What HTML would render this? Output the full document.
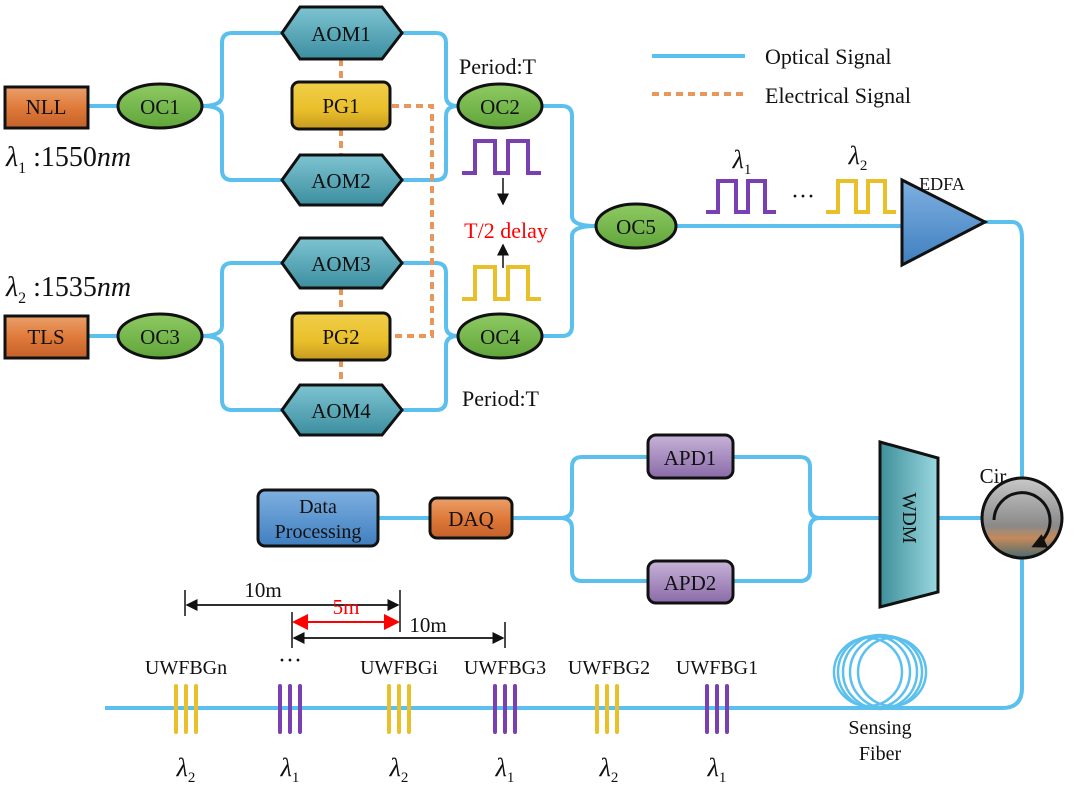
<!DOCTYPE html>
<html><head><meta charset="utf-8"><style>body{margin:0;background:#fff}svg{display:block}text{font-family:"Liberation Serif",serif;fill:#111}</style></head><body>
<svg width="1080" height="796" viewBox="0 0 1080 796" xmlns="http://www.w3.org/2000/svg">
<defs>
<linearGradient id="or" x1="0" y1="0" x2="0" y2="1"><stop offset="0" stop-color="#e9a06a"/><stop offset="0.5" stop-color="#e07a3a"/><stop offset="1" stop-color="#c4602a"/></linearGradient>
<linearGradient id="gr" x1="0" y1="0" x2="0" y2="1"><stop offset="0" stop-color="#8fca63"/><stop offset="1" stop-color="#5fa53a"/></linearGradient>
<linearGradient id="tl" x1="0" y1="0" x2="0" y2="1"><stop offset="0" stop-color="#7ec4d2"/><stop offset="1" stop-color="#3c8ea0"/></linearGradient>
<linearGradient id="ye" x1="0" y1="0" x2="0" y2="1"><stop offset="0" stop-color="#f1cf4a"/><stop offset="0.6" stop-color="#e9bf2a"/><stop offset="1" stop-color="#c79a20"/></linearGradient>
<linearGradient id="pu" x1="0" y1="0" x2="0" y2="1"><stop offset="0" stop-color="#c7b3d8"/><stop offset="1" stop-color="#8a6aa8"/></linearGradient>
<linearGradient id="bl" x1="0" y1="0" x2="0" y2="1"><stop offset="0" stop-color="#7fb0e0"/><stop offset="1" stop-color="#3f7fc0"/></linearGradient>
<linearGradient id="wd" x1="0" y1="0" x2="1" y2="0"><stop offset="0" stop-color="#3e8f9a"/><stop offset="1" stop-color="#9ad8e0"/></linearGradient>
<linearGradient id="ci" x1="0" y1="0" x2="0" y2="1"><stop offset="0" stop-color="#c8c8c8"/><stop offset="0.6" stop-color="#8a8a8a"/><stop offset="0.75" stop-color="#c48a5a"/><stop offset="1" stop-color="#4a6a70"/></linearGradient>
<marker id="ah" markerWidth="8" markerHeight="8" refX="7" refY="4" orient="auto"><path d="M0,0 L8,4 L0,8 z" fill="#111"/></marker>
<marker id="ahs" markerWidth="5" markerHeight="5" refX="4" refY="2.5" orient="auto"><path d="M0,0 L5,2.5 L0,5 z" fill="#111"/></marker>
<marker id="ahr" markerWidth="8" markerHeight="8" refX="7" refY="4" orient="auto"><path d="M0,0 L8,4 L0,8 z" fill="#f00"/></marker>
</defs>
<g fill="none" stroke="#5bc0ee" stroke-width="4" stroke-linejoin="round">
<path d="M88,106 H120"/>
<path d="M202,106 Q222,106 222,96 V43 Q222,33 232,33 H290 M202,106 Q222,106 222,116 V170 Q222,180 232,180 H290"/>
<path d="M392,33 H436 Q446,33 446,43 V96 Q446,106 458,106 M392,180 H436 Q446,180 446,170 V116 Q446,106 458,106"/>
<path d="M202,336 Q222,336 222,326 V273 Q222,263 232,263 H290 M202,336 Q222,336 222,346 V400 Q222,410 232,410 H290"/>
<path d="M88,336 H120"/>
<path d="M392,263 H436 Q446,263 446,273 V326 Q446,336 458,336 M392,410 H436 Q446,410 446,400 V346 Q446,336 458,336"/>
<path d="M542,106 H562 Q572,106 572,116 V216 Q572,226 596,226 M542,336 H562 Q572,336 572,326 V236 Q572,226 596,226"/>
<path d="M676,226 H902"/>
<path d="M985,222 H1012 Q1022,222 1022,238 V478"/>
<path d="M1022,558 V688 Q1022,708 1002,708 H105"/>
<path d="M938,518 H982"/>
<path d="M880,518 H820 Q810,518 810,508 V467 Q810,457 800,457 H733 M820,518 Q810,518 810,528 V571 Q810,581 800,581 H733"/>
<path d="M648,457 H582 Q572,457 572,467 V508 Q572,518 560,518 H512 M648,581 H582 Q572,581 572,571 V528 Q572,518 560,518"/>
<path d="M430,518 H378"/>
<path d="M652,56 H745"/>
<circle cx="880" cy="672" r="37" stroke-width="2.5"/><circle cx="868" cy="672" r="34" stroke-width="2.5"/><circle cx="892" cy="672" r="34" stroke-width="2.5"/><circle cx="874" cy="672" r="36" stroke-width="2.5"/><circle cx="886" cy="672" r="36" stroke-width="2.5"/>
</g>
<g fill="none" stroke="#e8965a" stroke-width="4" stroke-dasharray="7,5">
<path d="M341,59 V82 M341,129 V155 M341,288 V313 M341,360 V384"/>
<path d="M392,106 H432 V336 H392"/>
<path d="M652,94 H745"/>
</g>
<g stroke="#111" stroke-width="3">
<rect x="5" y="87" width="83" height="41" fill="url(#or)"/>
<rect x="5" y="316" width="83" height="42" fill="url(#or)"/>
<ellipse cx="160" cy="106" rx="42" ry="22" fill="url(#gr)"/>
<ellipse cx="160" cy="336" rx="42" ry="22" fill="url(#gr)"/>
<ellipse cx="500" cy="106" rx="42" ry="22" fill="url(#gr)"/>
<ellipse cx="500" cy="336" rx="42" ry="22" fill="url(#gr)"/>
<ellipse cx="636" cy="226" rx="40" ry="22" fill="url(#gr)"/>
<path d="M282,33 L300,7 H382 L402,33 L382,59 H300 Z" fill="url(#tl)"/>
<path d="M282,180 L300,155 H382 L402,180 L382,205 H300 Z" fill="url(#tl)"/>
<path d="M282,263 L300,238 H382 L402,263 L382,288 H300 Z" fill="url(#tl)"/>
<path d="M282,410 L300,385 H382 L402,410 L382,435 H300 Z" fill="url(#tl)"/>
<rect x="292" y="82" width="98" height="47" rx="7" fill="url(#ye)"/>
<rect x="292" y="313" width="98" height="47" rx="7" fill="url(#ye)"/>
<path d="M902,180 V265 L985,222 Z" fill="url(#bl)"/>
<rect x="648" y="435" width="85" height="43" rx="8" fill="url(#pu)"/>
<rect x="648" y="561" width="85" height="42" rx="8" fill="url(#pu)"/>
<rect x="430" y="498" width="82" height="40" rx="7" fill="url(#or)"/>
<rect x="258" y="490" width="120" height="56" rx="7" fill="url(#bl)"/>
<path d="M880,442 L938,458 V592 L880,607 Z" fill="url(#wd)"/>
<circle cx="1022" cy="518" r="40" fill="url(#ci)"/>
</g>
<path d="M994,520 A28,28 0 1 1 1034,546" fill="none" stroke="#111" stroke-width="3" marker-end="url(#ahs)"/>
<g fill="none" stroke-width="4">
<path d="M462,173 H475 V141 H495 V173 H508 V141 H528 V173 H541" stroke="#7a3fb0"/>
<path d="M462,299 H475 V267 H495 V299 H508 V267 H528 V299 H541" stroke="#e9bf2a"/>
<path d="M706,212 H718 V181 H736 V212 H748 V181 H765 V212 H776" stroke="#7a3fb0"/>
<path d="M826,212 H838 V181 H856 V212 H868 V181 H885 V212 H896" stroke="#e9bf2a"/>
</g>
<line x1="503" y1="178" x2="503" y2="204" stroke="#111" stroke-width="1.5" marker-end="url(#ah)"/>
<line x1="503" y1="268" x2="503" y2="245" stroke="#111" stroke-width="1.5" marker-end="url(#ah)"/>
<g stroke-width="4" stroke-linecap="round">
<g stroke="#e9bf2a"><path d="M176,686V732M186,686V732M196,686V732M389,686V732M399,686V732M409,686V732M597,686V732M607,686V732M617,686V732"/></g>
<g stroke="#7a3fb0"><path d="M280,686V732M290,686V732M300,686V732M495,686V732M505,686V732M515,686V732M707,686V732M717,686V732M727,686V732"/></g>
</g>
<g stroke="#111" stroke-width="1.5">
<path d="M185,590V616 M400,590V632 M292,612V648 M505,622V648"/>
<line x1="187" y1="605" x2="398" y2="605" marker-end="url(#ah)"/><line x1="398" y1="605" x2="187" y2="605" marker-end="url(#ah)"/>
<line x1="294" y1="638" x2="503" y2="638" marker-end="url(#ah)"/><line x1="503" y1="638" x2="294" y2="638" marker-end="url(#ah)"/>
</g>
<g stroke="#f00" stroke-width="2"><line x1="294" y1="622" x2="398" y2="622" marker-end="url(#ahr)"/><line x1="398" y1="622" x2="294" y2="622" marker-end="url(#ahr)"/></g>
<g font-size="21" text-anchor="middle">
<text x="46" y="114">NLL</text><text x="46" y="344">TLS</text>
<text x="160" y="114">OC1</text><text x="160" y="344">OC3</text>
<text x="500" y="114">OC2</text><text x="500" y="344">OC4</text><text x="636" y="234">OC5</text>
<text x="341" y="41">AOM1</text><text x="341" y="188">AOM2</text><text x="341" y="271">AOM3</text><text x="341" y="418">AOM4</text>
<text x="341" y="113">PG1</text><text x="341" y="344">PG2</text>
<text x="690" y="465">APD1</text><text x="690" y="590">APD2</text>
<text x="471" y="526">DAQ</text>
<text x="318" y="513" font-size="20">Data</text><text x="318" y="538" font-size="20">Processing</text>
<text x="942" y="190" font-size="18">EDFA</text>
<text x="993" y="483">Cir</text>
<text x="880" y="734" font-size="20">Sensing</text><text x="880" y="760" font-size="20">Fiber</text>
<text x="186" y="674" font-size="20">UWFBGn</text><text x="290" y="668" font-size="24">···</text><text x="399" y="674" font-size="20">UWFBGi</text><text x="505" y="674" font-size="20">UWFBG3</text><text x="609" y="674" font-size="20">UWFBG2</text><text x="717" y="674" font-size="20">UWFBG1</text>
<text x="263" y="597">10m</text><text x="346" y="614" style="fill:#f00">5m</text><text x="428" y="632">10m</text>
<text x="506" y="238" font-size="22" style="fill:#f00">T/2 delay</text>
<text x="803" y="204" font-size="24">···</text>
</g>
<g font-size="22">
<text x="459" y="74">Period:T</text><text x="462" y="406">Period:T</text>
<text x="765" y="64">Optical Signal</text><text x="765" y="103">Electrical Signal</text>
<text transform="translate(903,518) rotate(90)" text-anchor="middle" font-size="20">WDM</text>
</g>
<g font-size="28">
<text x="6" y="166" font-style="italic">λ<tspan font-size="16" dy="7" font-style="normal">1</tspan><tspan dy="-7" font-style="normal"> :1550</tspan>nm</text>
<text x="6" y="296" font-style="italic">λ<tspan font-size="16" dy="7" font-style="normal">2</tspan><tspan dy="-7" font-style="normal"> :1535</tspan>nm</text>
</g>
<g font-size="26" font-style="italic" text-anchor="middle">
<text x="186" y="776">λ<tspan font-size="15" dy="6" font-style="normal">2</tspan></text>
<text x="290" y="776">λ<tspan font-size="15" dy="6" font-style="normal">1</tspan></text>
<text x="399" y="776">λ<tspan font-size="15" dy="6" font-style="normal">2</tspan></text>
<text x="505" y="776">λ<tspan font-size="15" dy="6" font-style="normal">1</tspan></text>
<text x="609" y="776">λ<tspan font-size="15" dy="6" font-style="normal">2</tspan></text>
<text x="717" y="776">λ<tspan font-size="15" dy="6" font-style="normal">1</tspan></text>
<text x="742" y="168">λ<tspan font-size="15" dy="6" font-style="normal">1</tspan></text>
<text x="858" y="164">λ<tspan font-size="15" dy="6" font-style="normal">2</tspan></text>
</g>
</svg>
</body></html>
